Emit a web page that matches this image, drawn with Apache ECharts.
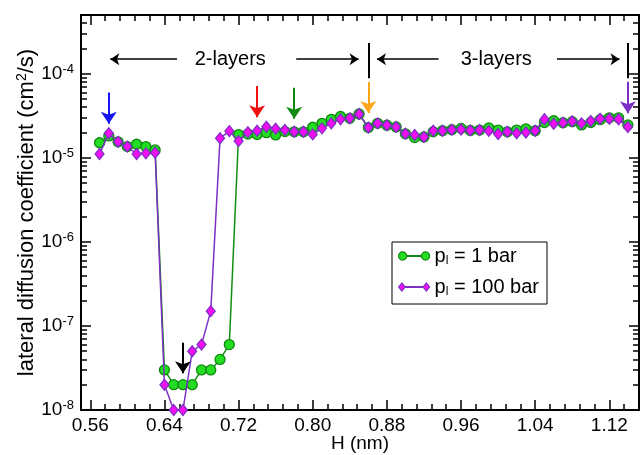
<!DOCTYPE html>
<html>
<head>
<meta charset="utf-8">
<script src="https://cdn.jsdelivr.net/npm/echarts@6/dist/echarts.min.js"></script>
<style>
  html, body { margin: 0; padding: 0; background: #ffffff; }
  #chart { width: 643px; height: 455px; }
</style>
</head>
<body>
<div id="chart"></div>
<script>
// Slit width H (nm)
const H = [
  0.57, 0.58, 0.59, 0.60, 0.61, 0.62, 0.63, 0.64, 0.65, 0.66,
  0.67, 0.68, 0.69, 0.70, 0.71, 0.72, 0.73, 0.74, 0.75, 0.76,
  0.77, 0.78, 0.79, 0.80, 0.81, 0.82, 0.83, 0.84, 0.85, 0.86,
  0.87, 0.88, 0.89, 0.90, 0.91, 0.92, 0.93, 0.94, 0.95, 0.96,
  0.97, 0.98, 0.99, 1.00, 1.01, 1.02, 1.03, 1.04, 1.05, 1.06,
  1.07, 1.08, 1.09, 1.10, 1.11, 1.12, 1.13, 1.14
];

// Lateral diffusion coefficient (cm^2/s) at p_l = 1 bar
const D_1bar = [
  1.51e-5, 1.82e-5, 1.55e-5, 1.36e-5, 1.45e-5, 1.36e-5, 1.24e-5,
  3e-8, 2e-8, 2e-8, 2e-8, 3e-8, 3e-8, 4e-8, 6e-8,
  1.89e-5, 1.92e-5, 1.90e-5, 1.99e-5, 1.87e-5, 2.05e-5, 2.04e-5, 2.04e-5,
  2.31e-5, 2.57e-5, 2.87e-5, 3.10e-5, 2.95e-5, 3.32e-5,
  2.29e-5, 2.57e-5, 2.44e-5, 2.33e-5, 1.93e-5, 1.74e-5, 1.77e-5, 2.04e-5,
  2.10e-5, 2.16e-5, 2.24e-5, 2.12e-5, 2.14e-5, 2.27e-5, 2.14e-5, 2.04e-5,
  2.14e-5, 2.21e-5, 2.10e-5,
  2.63e-5, 2.76e-5, 2.62e-5, 2.69e-5, 2.46e-5, 2.63e-5, 2.84e-5, 2.99e-5,
  2.99e-5, 2.46e-5
];

// Lateral diffusion coefficient (cm^2/s) at p_l = 100 bar
const D_100bar = [
  1.11e-5, 1.96e-5, 1.55e-5, 1.36e-5, 1.11e-5, 1.13e-5, 1.15e-5,
  2e-8, 1e-8, 1e-8, 5e-8, 6e-8, 1.5e-7,
  1.71e-5, 2.08e-5, 1.58e-5, 2.02e-5, 2.10e-5, 2.34e-5, 2.22e-5, 2.14e-5,
  2.04e-5, 2.04e-5, 1.90e-5, 2.24e-5, 2.57e-5, 2.87e-5, 2.95e-5, 3.32e-5,
  2.29e-5, 2.57e-5, 2.44e-5, 2.33e-5, 1.93e-5, 1.87e-5, 1.77e-5, 2.10e-5,
  2.10e-5, 2.16e-5, 2.17e-5, 2.12e-5, 2.14e-5, 2.09e-5, 1.92e-5, 2.04e-5,
  1.96e-5, 2.00e-5, 2.10e-5,
  2.88e-5, 2.54e-5, 2.62e-5, 2.72e-5, 2.57e-5, 2.74e-5, 2.92e-5, 2.92e-5,
  2.88e-5, 2.32e-5
];

// Axis ticks
const xMajorTicks = [0.56, 0.64, 0.72, 0.80, 0.88, 0.96, 1.04, 1.12];
const xMinorStep = 0.016;
const yDecades = [-8, -7, -6, -5, -4];
const yMinorMultipliers = [2, 3, 4, 5, 6, 7, 8, 9];

// Legend
const seriesNames = ['p_l = 1 bar', 'p_l = 100 bar'];
const legendPressures = ['1 bar', '100 bar'];

// Coloured arrows pointing at selected widths
const arrowH     = [0.58, 0.66, 0.74, 0.78, 0.86, 1.14];
const arrowStart = [6.0e-5, 6.3e-8, 7.15e-5, 6.82e-5, 7.97e-5, 8.04e-5];
const arrowEnd   = [2.55e-5, 2.73e-8, 3.03e-5, 2.92e-5, 3.41e-5, 3.38e-5];
const arrowColors = ['#1414f0', '#000000', '#f01010', '#118a11', '#ffa41a', '#7b2fc4'];

// Layer regions
const layerLabels = ['2-layers', '3-layers'];
const layerLabelH = [0.711, 0.998];
const layerLevel = 1.49e-4;
const layerArrowFrom = [0.6536, 0.7822, 0.9358, 1.0635];
const layerArrowTo   = [0.5816, 0.8495, 0.8693, 1.131];
const layerBoundH = [0.8602, 1.140];
const layerBoundSpan = [8.83e-5, 2.32e-4];

const X_MIN = 0.55, X_MAX = 1.152;
const Y_MIN = 1e-8, Y_MAX = 5e-4;
const yLogMax = Math.log10(Y_MAX);
const FONT = '"Liberation Sans", Arial, Helvetica, sans-serif';

const xMinorTicks = [];
for (let v = xMajorTicks[0]; v <= X_MAX + 1e-9; v += xMinorStep) {
  const r = Math.round(v * 1000) / 1000;
  if (!xMajorTicks.some(m => Math.abs(m - r) < 1e-6)) xMinorTicks.push(r);
}
const yMinorTicks = [];
yDecades.forEach(d => yMinorMultipliers.forEach(k => {
  const v = d + Math.log10(k);
  if (v < yLogMax - 1e-6) yMinorTicks.push(v);
}));

const frameLine = { show: true, onZero: false, lineStyle: { color: '#000', width: 2 } };
const noLine = { show: false, onZero: false };

function tickX(position, values, length, withLine) {
  return {
    type: 'value', position, min: X_MIN, max: X_MAX,
    axisLine: withLine ? frameLine : noLine,
    axisTick: { show: true, inside: true, length, customValues: values,
                lineStyle: { color: '#000', width: 1.5 } },
    axisLabel: { show: false },
    splitLine: { show: false }
  };
}
function tickY(position, values, length, withLine) {
  return {
    type: 'value', position, min: -8, max: yLogMax,
    axisLine: withLine ? frameLine : noLine,
    axisTick: { show: true, inside: true, length, customValues: values,
                lineStyle: { color: '#000', width: 1.5 } },
    axisLabel: { show: false },
    splitLine: { show: false }
  };
}

const xAxes = [
  {
    type: 'value', position: 'bottom', min: X_MIN, max: X_MAX,
    axisLine: frameLine,
    axisTick: { show: true, inside: true, length: 10, customValues: xMajorTicks,
                lineStyle: { color: '#000', width: 1.5 } },
    axisLabel: { show: true, customValues: xMajorTicks, margin: 6,
                 formatter: v => v.toFixed(2), color: '#000', fontSize: 19, fontFamily: FONT },
    splitLine: { show: false },
    name: 'H (nm)', nameLocation: 'middle', nameGap: 24, nameMoveOverlap: false,
    nameTextStyle: { color: '#000', fontSize: 19, fontFamily: FONT }
  },
  tickX('bottom', xMinorTicks, 6, false),
  tickX('top', xMajorTicks, 10, true),
  tickX('top', xMinorTicks, 6, false)
];

const yAxes = [
  {
    type: 'log', logBase: 10, position: 'left', min: Y_MIN, max: Y_MAX,
    axisLine: frameLine, axisTick: { show: false }, axisLabel: { show: false },
    splitLine: { show: false }
  },
  {
    type: 'value', position: 'left', min: -8, max: yLogMax,
    axisLine: noLine,
    axisTick: { show: true, inside: true, length: 10, customValues: yDecades,
                lineStyle: { color: '#000', width: 1.5 } },
    axisLabel: {
      show: true, customValues: yDecades, margin: 7,
      formatter: v => '{b|10}{s|' + v + '}',
      rich: {
        b: { fontSize: 19, fontFamily: FONT, color: '#000', lineHeight: 22 },
        s: { fontSize: 13, fontFamily: FONT, color: '#000', lineHeight: 12, verticalAlign: 'top' }
      }
    },
    splitLine: { show: false },
    name: '{t|lateral diffusion coefficient (cm}{s|2}{t|/s)}',
    nameLocation: 'middle', nameGap: 42, nameRotate: 90, nameMoveOverlap: false,
    nameTextStyle: {
      rich: {
        t: { fontSize: 22, fontFamily: FONT, color: '#000', lineHeight: 24 },
        s: { fontSize: 14, fontFamily: FONT, color: '#000', lineHeight: 12, verticalAlign: 'top' }
      }
    }
  },
  tickY('left', yMinorTicks, 6, false),
  tickY('right', yDecades, 10, true),
  tickY('right', yMinorTicks, 6, false)
];

const arrowData = arrowH.map((h, i) => [
  { coord: [h, arrowStart[i]], symbol: 'none',
    lineStyle: { color: arrowColors[i], width: 2, type: 'solid' } },
  { coord: [h, arrowEnd[i]], symbol: 'arrow', symbolSize: 12,
    lineStyle: { color: arrowColors[i], width: 2, type: 'solid' } }
]);
const layerArrowData = layerArrowFrom.map((h, i) => [
  { coord: [h, layerLevel], symbol: 'none', lineStyle: { color: '#000', width: 1.5, type: 'solid' } },
  { coord: [layerArrowTo[i], layerLevel], symbol: 'arrow', symbolSize: 9,
    lineStyle: { color: '#000', width: 1.5, type: 'solid' } }
]);
const layerBoundData = layerBoundH.map(h => [
  { coord: [h, layerBoundSpan[0]], symbol: 'none', lineStyle: { color: '#000', width: 2, type: 'solid' } },
  { coord: [h, layerBoundSpan[1]], symbol: 'none', lineStyle: { color: '#000', width: 2, type: 'solid' } }
]);

const legendIcons = [
  'path://M0,5a5,5 0 1,0 10,0a5,5 0 1,0 -10,0ZM10,4.4L28,4.4L28,5.6L10,5.6ZM28,5a5,5 0 1,0 10,0a5,5 0 1,0 -10,0Z',
  'path://M0,5L4,0L8,5L4,10ZM8,4.4L30,4.4L30,5.6L8,5.6ZM30,5L34,0L38,5L34,10Z'
];

const chart = echarts.init(document.getElementById('chart'), null, { renderer: 'canvas' });
chart.setOption({
  animation: false,
  backgroundColor: '#ffffff',
  grid: { left: 81, right: 4, top: 15, bottom: 45, containLabel: false, outerBoundsMode: 'none' },
  xAxis: xAxes,
  yAxis: yAxes,
  legend: {
    data: [
      { name: seriesNames[0], icon: legendIcons[0],
        itemStyle: { color: '#22dd22', borderColor: '#118811', borderWidth: 1.2 } },
      { name: seriesNames[1], icon: legendIcons[1],
        itemStyle: { color: '#f010f0', borderColor: '#7b2fc4', borderWidth: 1.2 } }
    ],
    orient: 'vertical', left: 392, top: 242,
    itemWidth: 31, itemHeight: 10, itemGap: 10,
    padding: [4, 8, 6, 6],
    borderColor: '#000', borderWidth: 1, borderRadius: 0,
    backgroundColor: '#fff',
    selectedMode: false,
    formatter: name => '{t|p}{s|l}{t| = ' + legendPressures[seriesNames.indexOf(name)] + '}',
    textStyle: {
      rich: {
        t: { fontSize: 20, fontFamily: FONT, color: '#000', lineHeight: 22 },
        s: { fontSize: 12, fontFamily: FONT, color: '#000', lineHeight: 10, verticalAlign: 'bottom' }
      }
    }
  },
  series: [
    {
      name: seriesNames[0], type: 'line', xAxisIndex: 0, yAxisIndex: 0,
      data: H.map((h, i) => [h, D_1bar[i]]),
      showAllSymbol: true, symbol: 'circle', symbolSize: 10,
      lineStyle: { color: '#128f12', width: 1.5 },
      itemStyle: { color: '#22dd22', borderColor: '#118811', borderWidth: 1.3 },
      emphasis: { disabled: true }, z: 3
    },
    {
      name: seriesNames[1], type: 'line', xAxisIndex: 0, yAxisIndex: 0,
      data: H.map((h, i) => [h, D_100bar[i]]),
      showAllSymbol: true, symbol: 'diamond', symbolSize: [9, 11],
      lineStyle: { color: '#7b2fc4', width: 1.5 },
      itemStyle: { color: '#f010f0', borderColor: '#7b2fc4', borderWidth: 1.2 },
      emphasis: { disabled: true }, z: 4
    },
    {
      name: 'notes', type: 'line', xAxisIndex: 0, yAxisIndex: 0, data: [],
      silent: true, z: 5,
      markLine: {
        silent: true, animation: false, symbol: ['none', 'none'],
        label: { show: false }, emphasis: { disabled: true },
        data: arrowData.concat(layerArrowData, layerBoundData)
      },
      markPoint: {
        silent: true, animation: false, symbol: 'circle', symbolSize: 1,
        itemStyle: { color: 'rgba(0,0,0,0)' },
        label: { show: true, position: 'inside', formatter: '{b}',
                 color: '#000', fontSize: 20, fontFamily: FONT },
        data: layerLabels.map((t, i) => ({ name: t, coord: [layerLabelH[i], layerLevel] }))
      }
    }
  ]
});
</script>
</body>
</html>
